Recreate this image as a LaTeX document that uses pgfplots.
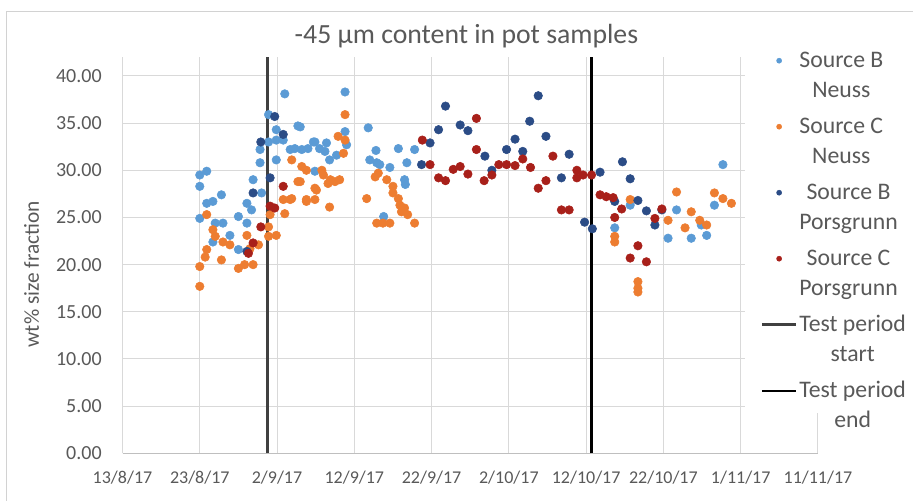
\documentclass[border=0pt]{standalone}
\usepackage{pgfplots}
\pgfplotsset{compat=1.18}
\usepackage{fontspec}
\setmainfont{Carlito}
\definecolor{bneuss}{HTML}{5B9BD5}
\definecolor{cneuss}{HTML}{ED7D31}
\definecolor{bpors}{HTML}{2B4C86}
\definecolor{cpors}{HTML}{A8201A}
\definecolor{txt}{HTML}{595959}
\definecolor{gridc}{HTML}{D9D9D9}
\definecolor{startc}{HTML}{404040}
\newcommand{\twoline}[2]{\begin{tabular}[t]{@{}c@{}}#1\\#2\end{tabular}}
\pgfplotsset{
 legmark/.style={legend image code/.code={\draw[mark repeat=2,mark phase=2,##1,mark size=1.9pt] plot coordinates {(0pt,5pt)(13pt,5pt)(26pt,5pt)};}},
 legline/.style={legend image code/.code={\draw[##1] (0pt,5pt) -- (26pt,5pt);}},
}
\begin{document}
\begin{tikzpicture}
\useasboundingbox (0,0) rectangle (684.75pt,375pt);
\draw[gray!35, line width=0.75pt] (5pt,-5pt) -- (5pt,366.2pt) -- (690pt,366.2pt);
\begin{axis}[
 at={(91.875pt,35pt)}, anchor=south west,
 scale only axis, width=521.6pt, height=297.2pt,
 xmin=0, xmax=90, ymin=0, ymax=42,
 xtick={0,10,...,90},
 xticklabels={13/8/17,23/8/17,2/9/17,12/9/17,22/9/17,2/10/17,12/10/17,22/10/17,1/11/17,11/11/17},
 ytick={0,5,...,40},
 yticklabel style={/pgf/number format/fixed, /pgf/number format/fixed zerofill, /pgf/number format/precision=2, /pgf/number format/assume math mode=true,
   font=\fontsize{15pt}{18pt}\selectfont, text=txt, anchor=east, inner sep=0pt, xshift=-15.4pt},
 xticklabel style={font=\fontsize{13.5pt}{16pt}\selectfont, text=txt, anchor=center, yshift=-18.2pt},
 grid=major, grid style={gridc, line width=0.75pt},
 axis lines*=left,
 x axis line style={draw=gray!50, line width=0.75pt},
 y axis line style={draw=none},
 major tick length=0pt,
 ylabel={wt\% size fraction},
 ylabel style={at={(axis description cs:-0.1306,0.452)}, anchor=center, font=\fontsize{16pt}{19pt}\selectfont, text=txt},
 title={-45 µm content in pot samples},
 title style={at={(axis description cs:0.4946,1.033)}, anchor=center, font=\fontsize{20.8pt}{24pt}\selectfont, text=txt},
 legend style={at={(axis description cs:0.8950,1.0613)}, anchor=north west, fill=white, draw=none,
   inner xsep=11.25pt, inner ysep=10pt, row sep={49.5pt,between origins}, column sep=1pt,
   font=\fontsize{17.8pt}{22.5pt}\selectfont, text=txt, cells={anchor=base west}, nodes={inner sep=0pt}},
]
\addplot[only marks, mark=*, mark size=3.2pt, color=bneuss, mark options={draw=none, fill=bneuss}, legmark] coordinates {
(10.0,29.5)(10.9,29.9)(10.0,28.3)(10.0,24.9)(10.9,26.5)(11.7,26.7)(12.8,27.4)(12.0,24.4)(13.0,24.4)(13.9,23.1)
(11.7,22.4)(15.0,25.1)(16.1,26.5)(16.7,25.8)(16.9,29.0)(16.1,24.4)(15.0,21.6)(17.8,30.8)(17.8,32.2)(18.9,35.9)
(19.9,31.1)(19.9,34.3)(19.9,33.2)(21.0,38.1)(20.8,33.2)(21.7,32.2)(22.7,34.7)(22.3,32.3)(23.2,32.2)(24.0,32.3)
(24.9,33.0)(25.5,32.3)(26.2,32.0)(26.8,31.1)(26.4,32.9)(27.7,31.6)(28.8,34.1)(28.8,38.3)(29.0,32.7)(24.9,29.9)
(18.0,27.6)(18.9,33.0)(23.0,34.6)(24.7,33.0)
(31.8,34.5)(32.0,31.1)(32.9,30.8)(32.8,32.1)(35.7,32.3)(37.8,32.2)(33.3,30.6)(34.6,30.3)(36.8,30.8)(36.5,29.0)
(36.6,28.5)(33.8,25.1)
(77.7,30.6)(76.6,26.3)(71.7,25.8)(70.6,22.8)(73.6,22.8)(75.6,23.1)(63.7,23.9)(65.7,26.3)(74.9,24.2)
};
\addlegendentry{\twoline{Source B}{Neuss}}
\addplot[only marks, mark=*, mark size=3.2pt, color=cneuss, mark options={draw=none, fill=cneuss}, legmark] coordinates {
(10.0,17.7)(10.0,19.8)(10.9,21.6)(10.7,20.8)(10.9,25.3)(11.7,23.7)(12.0,23.0)(12.8,20.5)(13.0,22.4)(13.9,22.1)
(15.0,19.6)(15.8,20.0)(16.9,20.0)(16.1,23.1)(16.5,21.7)(17.6,22.1)(18.9,24.0)(18.9,23.0)(19.9,23.1)(19.1,25.3)
(20.8,26.9)(21.7,26.9)(21.0,25.4)(21.9,31.1)(22.7,28.8)(23.2,30.4)(23.8,30.0)(23.8,26.9)(24.9,26.9)(25.1,27.9)
(26.0,29.5)(26.6,28.6)(26.8,26.1)(27.5,28.8)(27.9,33.6)(28.6,31.8)(28.8,35.9)(28.8,33.2)(28.1,29.0)(25.8,30.0)
(26.9,29.0)(24.9,28.1)(23.0,28.8)(21.9,27.0)(23.8,26.7)
(33.1,29.7)(32.7,29.3)(34.2,29.0)(35.0,28.3)(31.6,27.0)(35.0,27.6)(35.7,27.0)(35.9,26.3)(36.5,26.0)(36.1,25.6)
(36.9,25.3)(32.9,24.4)(33.7,24.4)(34.6,24.4)(37.8,24.4)
(65.7,26.9)(71.7,27.7)(73.6,25.6)(72.8,23.9)(74.7,24.7)(75.6,24.2)(76.6,27.6)(77.7,27.0)(78.8,26.5)(70.6,24.7)
(63.7,23.0)(63.7,22.4)(66.7,18.2)(66.7,17.5)(66.7,17.1)
};
\addlegendentry{\twoline{Source C}{Neuss}}
\addplot[only marks, mark=*, mark size=3.2pt, color=bpors, mark options={draw=none, fill=bpors}, legmark] coordinates {
(17.9,33.0)(16.9,27.6)(19.1,29.2)(19.7,35.7)(20.8,33.8)(16.1,21.4)
(41.8,36.8)(40.9,34.3)(39.8,32.9)(38.7,30.6)(43.7,34.8)(44.7,34.2)(46.9,31.5)(47.8,30.0)(49.7,32.2)(50.8,33.3)
(51.8,32.0)(52.7,35.2)(53.8,37.9)(54.8,33.6)(56.8,29.2)(57.8,31.7)(61.8,29.8)(59.8,24.5)(60.8,23.8)
(64.7,30.9)(65.7,29.1)(63.7,26.7)(66.7,26.8)(67.8,25.7)(68.9,24.2)(69.8,25.8)
};
\addlegendentry{\twoline{Source B}{Porsgrunn}}
\addplot[only marks, mark=*, mark size=3.2pt, color=cpors, mark options={draw=none, fill=cpors}, legmark] coordinates {
(20.8,28.3)(19.1,26.2)(19.7,26.0)(17.9,24.0)(16.9,22.3)(16.3,21.2)
(38.8,33.2)(39.8,30.6)(40.9,29.2)(41.8,28.9)(42.8,30.1)(43.7,30.4)(44.7,29.6)(45.8,35.5)(45.8,32.2)(46.8,28.9)
(47.8,29.5)(48.7,30.6)(49.7,30.6)(50.8,30.5)(51.8,31.2)(52.8,30.3)(53.8,28.1)(54.8,28.9)(55.7,31.5)(56.8,25.8)
(57.8,25.8)(58.8,30.0)(58.8,29.2)(59.6,29.5)(60.7,29.5)(61.8,27.4)(62.6,27.2)(63.5,27.1)(64.6,25.9)(63.7,25.0)
(66.7,22.0)(65.7,20.7)(67.8,20.3)(68.9,24.9)(69.8,25.9)
};
\addlegendentry{\twoline{Source C}{Porsgrunn}}
\addplot[color=startc, line width=2.4pt, legline] coordinates {(18.8,0)(18.8,42)};
\addlegendentry{\twoline{Test period}{start}}
\addplot[color=black, line width=1.8pt, legline] coordinates {(60.7,0)(60.7,42)};
\addlegendentry{\twoline{Test period}{end}}
\end{axis}
\end{tikzpicture}
\end{document}
